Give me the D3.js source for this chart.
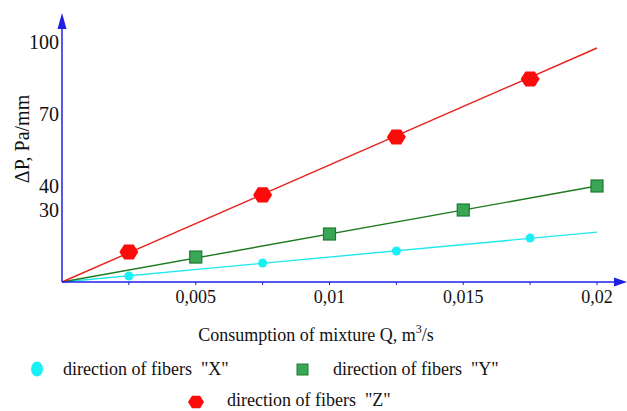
<!DOCTYPE html>
<html>
<head>
<meta charset="utf-8">
<script src="https://cdn.jsdelivr.net/npm/d3@7"></script>
<style>
  body { margin: 0; background: #fff; }
  svg text { font-family: "Liberation Serif", "DejaVu Serif", serif; fill: #111; white-space: pre; }
</style>
</head>
<body>
<div id="container"></div>
<script>
/* CONSTANTS AND GLOBALS */
const width = 627, height = 411;
const serif = "'Liberation Serif', 'DejaVu Serif', serif";

/* DATA */
const xTicks = [0.005, 0.01, 0.015, 0.02];
const xMinorTicks = [0.0025, 0.005, 0.0075, 0.01, 0.0125, 0.015, 0.0175, 0.02];
const xTickLabels = ["0,005", "0,01", "0,015", "0,02"];
const yTicks = [30, 40, 70, 100];

// measured points
const xPointsX = [0.0025, 0.0075, 0.0125, 0.0175];
const xPointsY = [2.5, 7.9, 12.9, 18.3];
const yPointsX = [0.005, 0.01, 0.015, 0.02];
const yPointsY = [10.4, 20, 30, 40];
const zPointsX = [0.0025, 0.0075, 0.0125, 0.0175];
const zPointsY = [12.5, 36.3, 60.4, 84.6];

// trend line end points
const lineQ = [0, 0.02];
const xLineY = [0, 20.8];
const yLineY = [0, 40];
const zLineY = [0, 97.5];

const legendLabels = ['direction of fibers  "X"', 'direction of fibers  "Y"', 'direction of fibers  "Z"'];

// SCALES
const xScale = d3.scaleLinear().domain([0, 0.02]).range([62, 597]);
const yScale = d3.scaleLinear().domain([0, 100]).range([282, 42]);

// CREATE SVG ELEMENT
const svg = d3.select("#container")
  .append("svg")
  .attr("width", width)
  .attr("height", height)
  .attr("font-family", serif)
  .style("font-family", serif);

// helper to zip x/y arrays
const zip = (xs, ys) => xs.map((x, i) => ({ q: x, p: ys[i] }));

// LINES
const lineGen = d3.line()
  .x(d => xScale(d.q))
  .y(d => yScale(d.p));

const lines = [
  { data: zip(lineQ, xLineY), color: "#1ee8ee" },
  { data: zip(lineQ, yLineY), color: "#1f7a1f" },
  { data: zip(lineQ, zLineY), color: "#e8201c" }
];

svg.selectAll(".line")
  .data(lines)
  .join("path")
  .attr("class", "line")
  .attr("d", d => lineGen(d.data))
  .attr("fill", "none")
  .attr("stroke", d => d.color)
  .attr("stroke-width", 1.4);

// AXES (blue with arrows)
const axisColor = "#1f1fe6";
const x0 = xScale(0), y0 = yScale(0);

svg.append("line")
  .attr("x1", x0).attr("y1", y0)
  .attr("x2", x0).attr("y2", 26)
  .attr("stroke", axisColor).attr("stroke-width", 1.5);
svg.append("path")
  .attr("d", `M${x0},13 L${x0 - 4.5},29 L${x0 + 4.5},29 Z`)
  .attr("fill", axisColor);

svg.append("line")
  .attr("x1", x0).attr("y1", y0)
  .attr("x2", 616).attr("y2", y0)
  .attr("stroke", axisColor).attr("stroke-width", 1.5);
svg.append("path")
  .attr("d", `M627,${y0} L614,${y0 - 4.5} L614,${y0 + 4.5} Z`)
  .attr("fill", axisColor);

// x ticks
svg.selectAll(".xtick")
  .data(xMinorTicks)
  .join("line")
  .attr("class", "xtick")
  .attr("x1", d => xScale(d)).attr("x2", d => xScale(d))
  .attr("y1", y0).attr("y2", y0 + 3)
  .attr("stroke", axisColor).attr("stroke-width", 1);

svg.selectAll(".xlabel")
  .data(xTicks)
  .join("text")
  .attr("class", "xlabel")
  .attr("x", d => xScale(d))
  .attr("y", 303)
  .attr("text-anchor", "middle")
  .style("font-size", "18px")
  .text((d, i) => xTickLabels[i]);

svg.selectAll(".ylabel")
  .data(yTicks)
  .join("text")
  .attr("class", "ylabel")
  .attr("x", 59)
  .attr("y", d => yScale(d) + 7)
  .attr("text-anchor", "end")
  .style("font-size", "20px")
  .text(d => d);

// axis titles
svg.append("text")
  .attr("transform", "translate(29,139) rotate(-90)")
  .attr("text-anchor", "middle")
  .style("font-size", "20px")
  .text("ΔP, Pa/mm");

const xTitle = svg.append("text")
  .attr("x", 316)
  .attr("y", 341)
  .attr("text-anchor", "middle")
  .style("font-size", "18px");
xTitle.append("tspan").text("Consumption of mixture Q, m");
xTitle.append("tspan").attr("dy", -8).style("font-size", "12px").text("3");
xTitle.append("tspan").attr("dy", 8).text("/s");

// MARKERS
const hexPath = (cx, cy, r) => {
  const pts = d3.range(6).map(k => {
    const a = Math.PI / 3 * k;
    return [cx + r * Math.cos(a), cy + r * 0.92 * Math.sin(a)];
  });
  return "M" + pts.map(p => p.join(",")).join("L") + "Z";
};

svg.selectAll(".ptX")
  .data(zip(xPointsX, xPointsY))
  .join("circle")
  .attr("class", "ptX")
  .attr("cx", d => xScale(d.q))
  .attr("cy", d => yScale(d.p))
  .attr("r", 4.5)
  .attr("fill", "#19f0f5");

svg.selectAll(".ptY")
  .data(zip(yPointsX, yPointsY))
  .join("rect")
  .attr("class", "ptY")
  .attr("x", d => xScale(d.q) - 6)
  .attr("y", d => yScale(d.p) - 6)
  .attr("width", 12).attr("height", 12)
  .attr("fill", "#3aa757")
  .attr("stroke", "#1c7a2c")
  .attr("stroke-width", 1.2);

svg.selectAll(".ptZ")
  .data(zip(zPointsX, zPointsY))
  .join("path")
  .attr("class", "ptZ")
  .attr("d", d => hexPath(xScale(d.q), yScale(d.p), 9.5))
  .attr("fill", "#ff0a0a");

// LEGEND
const legend = svg.append("g").style("font-size", "18px");

legend.append("ellipse")
  .attr("cx", 37).attr("cy", 369).attr("rx", 6).attr("ry", 7.5)
  .attr("fill", "#19f0f5");
legend.append("text").attr("x", 63).attr("y", 375).text(legendLabels[0]);

legend.append("rect")
  .attr("x", 297).attr("y", 364).attr("width", 11).attr("height", 11)
  .attr("fill", "#3aa757").attr("stroke", "#1c7a2c").attr("stroke-width", 1);
legend.append("text").attr("x", 333).attr("y", 375).text(legendLabels[1]);

legend.append("path")
  .attr("d", hexPath(196, 402, 8))
  .attr("fill", "#ff0a0a");
legend.append("text").attr("x", 227).attr("y", 406).text(legendLabels[2]);
</script>
</body>
</html>
